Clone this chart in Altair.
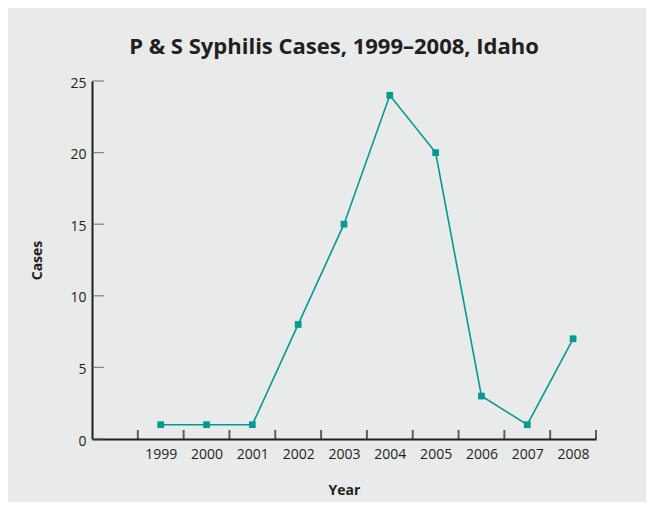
import altair as alt
import pandas as pd

years = [1999, 2000, 2001, 2002, 2003, 2004, 2005, 2006, 2007, 2008]
cases = [1, 1, 1, 8, 15, 24, 20, 3, 1, 7]
y_ticks = [0, 5, 10, 15, 20, 25]
x_bounds = [y + 0.5 for y in [1998] + years]

df = pd.DataFrame({"year": years, "cases": cases})
df_yt = pd.DataFrame({"v": y_ticks, "x0": [1997.5] * len(y_ticks)})
df_xt = pd.DataFrame({"b": x_bounds, "y0": [0] * len(x_bounds)})

FONT = "Open Sans"
TEAL = "#009a93"
DARK = "#231f20"

xscale = alt.Scale(domain=[1997.5, 2008.5], nice=False, zero=False)
yscale = alt.Scale(domain=[0, 25], nice=False)

base = alt.Chart(df)

line = base.mark_line(color=TEAL, strokeWidth=1.6).encode(
    x=alt.X("year:Q", scale=xscale,
            axis=alt.Axis(values=years, ticks=False, grid=False, domain=True,
                          domainColor=DARK, domainWidth=2, labelPadding=8,
                          labelFontSize=14, labelColor=DARK, labelFont=FONT,
                          format="d", title="Year", titleFont=FONT,
                          titleFontSize=14, titleFontWeight="bold",
                          titleColor=DARK, titlePadding=22)),
    y=alt.Y("cases:Q", scale=yscale,
            axis=alt.Axis(values=y_ticks, ticks=False, grid=False, domain=True,
                          domainColor=DARK, domainWidth=2, labelPadding=6,
                          labelOffset=2,
                          labelFontSize=14, labelColor=DARK, labelFont=FONT,
                          title="Cases", titleFont=FONT, titleFontSize=14,
                          titleFontWeight="bold", titleColor=DARK,
                          titlePadding=25)),
)
pts = base.mark_square(color=TEAL, size=45, opacity=1).encode(
    x=alt.X("year:Q", scale=xscale),
    y=alt.Y("cases:Q", scale=yscale),
)
yt = alt.Chart(df_yt).mark_tick(orient="horizontal", size=12, xOffset=6,
                                 thickness=1.2, color="#555555").encode(
    x=alt.X("x0:Q", scale=xscale),
    y=alt.Y("v:Q", scale=yscale),
)
xt = alt.Chart(df_xt).mark_tick(orient="vertical", size=9, yOffset=-4.5,
                                 thickness=2, color=DARK).encode(
    x=alt.X("b:Q", scale=xscale),
    y=alt.Y("y0:Q", scale=yscale),
)

chart = alt.layer(yt, xt, line, pts).properties(
    width=504, height=358,
    autosize=alt.AutoSizeParams(type="none"),
    padding={"left": 84, "top": 73, "right": 50, "bottom": 63},
    background="#e9eaea",
    title=alt.TitleParams("P & S Syphilis Cases, 1999–2008, Idaho",
                          font=FONT, fontSize=22, fontWeight="bold",
                          color=DARK, anchor="middle", dx=-10, offset=17),
).configure_view(stroke=None)

chart.save("out.html", embed_options={"renderer": "svg", "actions": False})
